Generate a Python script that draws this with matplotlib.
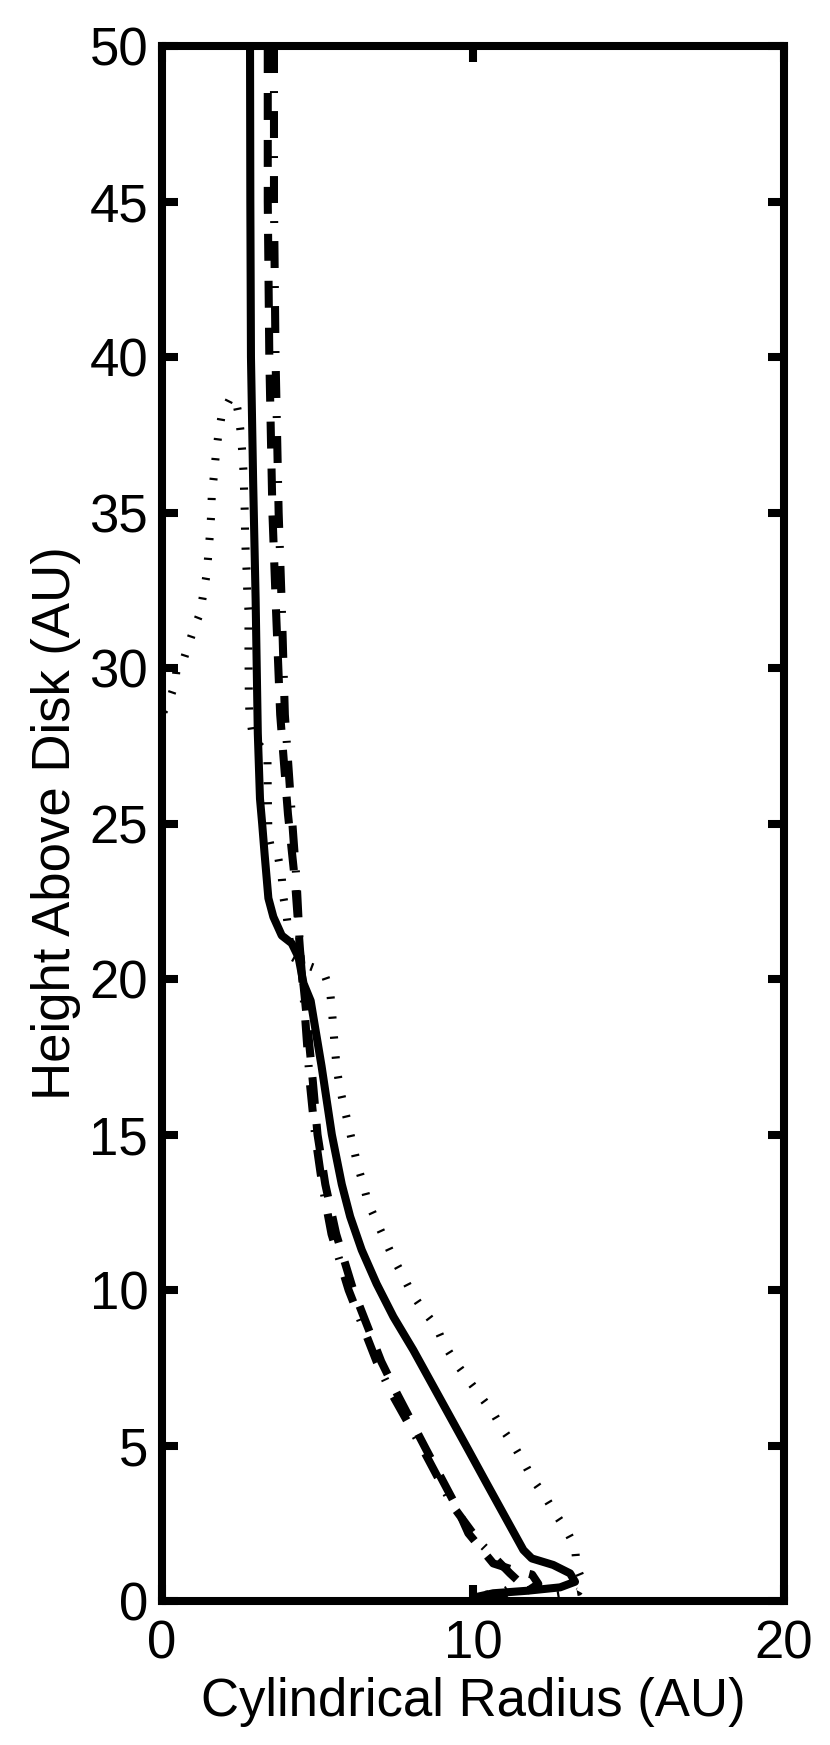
import matplotlib
matplotlib.use("Agg")
import matplotlib.pyplot as plt

# solid curve (cylindrical radius, height), in AU
solid_r = [2.83, 2.84, 2.86, 2.93, 3.01, 3.08, 3.15, 3.22, 3.30, 3.42, 3.58, 3.85, 4.17,
           4.39, 4.55, 4.78, 5.13, 5.46, 5.78, 6.05, 6.42, 6.90, 7.44, 8.08, 8.67, 9.26,
           9.85, 10.44, 11.03, 11.62, 11.89, 12.58, 13.12, 13.28, 12.80, 11.73, 10.65,
           10.20]
solid_z = [50.0, 45.0, 40.0, 36.0, 32.2, 27.9, 25.8, 25.0, 24.0, 22.6, 22.0, 21.4, 21.15,
           20.7, 19.86, 19.3, 17.2, 15.0, 13.4, 12.36, 11.29, 10.2, 9.14, 8.07, 7.0, 5.93,
           4.86, 3.78, 2.71, 1.64, 1.37, 1.16, 0.89, 0.62, 0.44, 0.33, 0.25,
           0.15]

# dashed curve
dashed_r = [3.40, 3.40, 3.45, 3.55, 3.66, 3.80, 4.05, 4.28, 4.44, 4.65, 4.85, 5.00,
            5.25, 5.60, 6.15, 7.05, 7.55, 8.50, 9.47, 9.85, 10.65, 11.30, 11.90, 12.10,
            11.80, 11.00, 10.30]
dashed_z = [50.0, 45.0, 40.0, 35.0, 32.0, 28.5, 25.3, 23.1, 20.9, 18.8, 16.7, 15.0,
            13.4, 11.8, 10.0, 7.7, 6.68, 4.86, 3.03, 2.18, 1.21, 1.0, 0.85, 0.55,
            0.35, 0.25, 0.15]

# dash-dot curve
dashdot_r = [3.60, 3.60, 3.65, 3.75, 3.85, 3.95, 4.17, 4.33, 4.44, 4.60, 4.75, 4.92,
             5.15, 5.45, 6.00, 6.90, 7.38, 8.40, 9.37, 10.20, 11.19, 11.50, 11.00, 10.40]
dashdot_z = [50.0, 45.0, 40.0, 35.0, 32.0, 28.5, 25.3, 23.1, 20.9, 18.8, 16.7, 15.0,
             13.4, 11.8, 10.0, 7.7, 6.68, 4.86, 3.03, 1.9, 0.89, 0.6, 0.3, 0.2]

# dotted curve
dotted_r = [0.05, 0.20, 0.42, 0.47, 0.69, 0.81, 1.01, 1.22, 1.33, 1.44, 1.49, 1.54,
            1.58, 1.60, 1.67, 1.73, 1.81, 1.92, 2.19, 2.35, 2.45, 2.53, 2.58, 2.62,
            2.64, 2.66, 2.67, 2.69, 2.72, 2.74, 2.78, 2.78, 2.79, 2.81, 2.92, 3.39,
            3.40, 3.42, 3.53, 3.74, 3.85, 3.90, 4.01, 4.17, 4.65, 5.19, 5.40, 5.46,
            5.51, 5.56, 5.62, 5.72, 5.86, 6.01, 6.15, 6.29, 6.47, 6.63, 6.90, 7.17,
            7.44, 7.76, 8.03, 8.40, 8.83, 9.05, 9.42, 9.85, 10.22, 10.65, 10.97, 11.30,
            11.62, 11.94, 12.32, 12.64, 13.00, 13.28, 13.33, 13.55, 13.40, 12.50]
dotted_z = [28.6, 28.86, 29.5, 29.99, 30.26, 30.63, 31.22, 31.76, 32.4, 33.04, 33.67, 34.3,
            34.92, 35.56, 36.2, 36.85, 37.49, 38.13, 38.67, 38.7, 38.22, 37.58, 36.95, 36.32,
            35.67, 35.03, 34.38, 33.74, 33.12, 32.48, 31.84, 30.52, 29.19, 28.54, 27.8, 27.2,
            26.0, 24.63, 24.1, 23.88, 23.27, 22.65, 22.0, 20.72, 20.45, 20.25, 19.65, 19.04,
            18.39, 17.75, 17.11, 16.49, 15.86, 15.23, 14.61, 14.0, 13.4, 12.79, 12.2, 11.61,
            11.02, 10.43, 9.9, 9.36, 8.8, 8.29, 7.7, 7.11, 6.62, 6.04, 5.5, 5.02,
            4.48, 3.89, 3.35, 2.82, 2.28, 1.75, 1.1, 0.57, 0.3, 0.15]

x_ticks = [0, 10, 20]
y_ticks = [0, 5, 10, 15, 20, 25, 30, 35, 40, 45, 50]

plt.rcParams["font.family"] = ["Liberation Sans", "DejaVu Sans"]
plt.rcParams["lines.scale_dashes"] = False

LW = 5.8

fig = plt.figure(figsize=(8.3, 17.45), dpi=100)
ax = fig.add_axes([0.1952, 0.0825, 0.7494, 0.8911])

ax.plot(solid_r, solid_z, color="black", lw=LW, solid_joinstyle="round")
ax.plot(dashed_r, dashed_z, color="black", lw=LW, dashes=(19.4, 14.4))
ax.plot(dashdot_r, dashdot_z, color="black", lw=LW, dashes=(19.4, 13.0, 1.4, 13.0))
ax.plot(dotted_r, dotted_z, color="black", lw=LW, dashes=(1.6, 12.8))

ax.set_xlim(0, 20)
ax.set_ylim(0, 50)
ax.set_xticks(x_ticks)
ax.set_yticks(y_ticks)

for sp in ax.spines.values():
    sp.set_linewidth(5.8)
ax.tick_params(direction="in", length=11.5, width=5.8, top=True, right=True,
               labelsize=38)
ax.tick_params(axis="x", pad=13)
ax.tick_params(axis="y", pad=10)

ax.set_xlabel("Cylindrical Radius (AU)", fontsize=38, labelpad=6)
ax.set_ylabel("Height Above Disk (AU)", fontsize=38, labelpad=6)

fig.savefig("out.png", dpi=100)
